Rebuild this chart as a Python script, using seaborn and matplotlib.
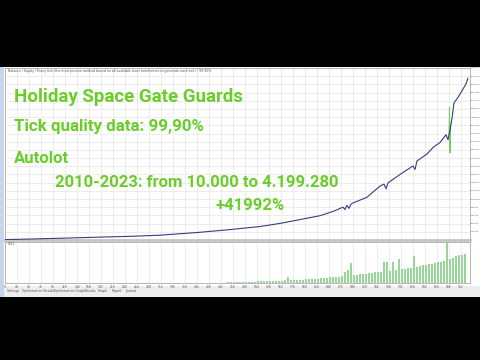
import numpy as np
import pandas as pd
import matplotlib
matplotlib.use("Agg")
import matplotlib.pyplot as plt
import seaborn as sns
from matplotlib.patches import Rectangle
from matplotlib.ticker import MultipleLocator, FixedLocator

# ---------------- data ----------------
headline = "Holiday Space Gate Guards"
quality_text = "Tick quality data: 99,90%"
lot_text = "Autolot"
range_text = "2010-2023: from 10.000 to 4.199.280"
gain_text = "+41992%"
header_text = ("Balance / Equity / Every tick (the most precise method based on all available "
               "least timeframes to generate each tick) / 99.90%")
tab_names = ["Settings", "Optimization Results", "Optimization Graph", "Results",
             "Graph", "Report", "Journal"]

balance_trade = [0, 50, 110, 190, 250, 310, 390, 450, 510, 550, 590, 630, 660, 670,
                 676, 680, 684, 688, 692, 696, 724, 750, 758, 762, 766, 770, 790, 816,
                 820, 824, 844, 856, 870, 882, 886, 890, 894, 898, 906, 914, 922, 926]
balance_value = [10000, 25000, 45000, 75000, 95000, 125000, 200000, 270000, 350000,
                 430000, 530000, 630000, 760000, 820000, 850000, 790000, 900000, 820000,
                 930000, 960000, 1110000, 1400000, 1450000, 1330000, 1480000, 1520000,
                 1700000, 1920000, 1830000, 2050000, 2230000, 2400000, 2530000, 2730000,
                 2600000, 2850000, 3150000, 3560000, 3700000, 3870000, 4050000, 4199280]

equity_trade = [888, 889, 890, 891]
equity_value = [2700000, 3450000, 2260000, 3000000]

lot_trade = list(range(446, 921, 6))
lot_size = [0.10, 0.08, 0.09, 0.10, 0.10, 0.11, 0.12, 0.13, 0.14, 0.15,
            0.16, 0.17, 0.18, 0.19, 0.20, 0.21, 0.22, 0.23, 0.25, 0.26,
            0.60, 0.28, 0.30, 0.31, 0.33, 0.35, 0.37, 0.39, 0.41, 0.43,
            0.45, 0.48, 0.50, 0.53, 0.56, 0.59, 0.62, 0.65, 0.70, 1.10,
            1.30, 2.00, 0.80, 0.83, 0.86, 0.90, 0.94, 0.98, 1.02, 1.06,
            1.10, 1.14, 2.10, 2.10, 1.24, 2.10, 1.32, 2.40, 1.40, 1.44,
            1.49, 1.54, 2.70, 1.64, 1.70, 1.76, 1.82, 1.88, 1.94, 2.00,
            2.06, 2.12, 2.20, 4.00, 2.40, 2.55, 2.70, 2.78, 2.85, 2.90]

# ---------------- figure ----------------
sns.set_theme(style="white")
plt.rcParams['font.family'] = ['Roboto', 'DejaVu Sans']

W, H = 480, 360
fig = plt.figure(figsize=(4.8, 3.6), dpi=100, facecolor="black")


def fx(px):
    return px / W


def fy(py):
    return 1 - py / H


# window background and chrome
fig.patches.append(Rectangle((0, fy(297)), 1, (297 - 67) / H, transform=fig.transFigure,
                             facecolor="white", edgecolor="none", zorder=-3))
fig.patches.append(Rectangle((0, fy(297)), fx(4), (297 - 67) / H, transform=fig.transFigure,
                             facecolor="#c7d5ea", edgecolor="none", zorder=-2))
fig.patches.append(Rectangle((fx(4), fy(297)), 1, 11 / H, transform=fig.transFigure,
                             facecolor="#ededed", edgecolor="none", zorder=-2))

main_ax = fig.add_axes([fx(5), fy(240), fx(470) - fx(5), (240 - 68) / H])
lot_ax = fig.add_axes([fx(5), fy(283), fx(470) - fx(5), (283 - 242) / H])

x_max = 930
y_max = 4461521

bal_df = pd.DataFrame({"trade": balance_trade, "value": balance_value})
eq_df = pd.DataFrame({"trade": equity_trade, "value": equity_value})
lot_df = pd.DataFrame({"trade": lot_trade, "lot": lot_size})

sns.lineplot(data=eq_df, x="trade", y="value", ax=main_ax, color="#7acb62", lw=0.8,
             estimator=None, sort=False, zorder=3)
sns.lineplot(data=bal_df, x="trade", y="value", ax=main_ax, color="#353f7c", lw=0.8,
             estimator=None, sort=False, zorder=4)

main_ax.set_xlim(0, x_max)
main_ax.set_ylim(0, y_max)
main_ax.set_xlabel("")
main_ax.set_ylabel("")
main_ax.xaxis.set_major_locator(MultipleLocator(24))
yt = np.linspace(0, y_max, 22)
main_ax.yaxis.set_major_locator(FixedLocator(yt))
main_ax.grid(True, color="#e6e6e6", lw=0.5)
main_ax.set_axisbelow(True)
main_ax.yaxis.tick_right()
main_ax.set_yticklabels([f"{int(v)}" for v in yt], family=["DejaVu Sans"])
main_ax.tick_params(axis="y", labelsize=1.5, labelcolor="#555555", length=0, pad=0.6)
main_ax.tick_params(axis="x", labelbottom=False, length=0)
for s in main_ax.spines.values():
    s.set_color("#9a9a9a")
    s.set_linewidth(0.5)
main_ax.spines["bottom"].set_color("#c4c4c4")
main_ax.spines["bottom"].set_linewidth(2.0)

sns.barplot(data=lot_df, x="trade", y="lot", ax=lot_ax, native_scale=True, color="#97d696",
            width=0.9, saturation=1, edgecolor="none", zorder=3)
lot_ax.set_xlim(0, x_max)
lot_ax.set_ylim(0, 4.1)
lot_ax.set_xlabel("")
lot_ax.set_ylabel("")
lot_ax.xaxis.set_major_locator(MultipleLocator(24))
lot_ax.grid(True, axis="x", color="#e6e6e6", lw=0.5)
lot_ax.set_axisbelow(True)
lot_ax.set_yticks([])
lot_ax.tick_params(axis="x", labelsize=2.2, labelcolor="#555555", length=1, width=0.4,
                   color="#555555", pad=0.8)
for lbl in lot_ax.get_xticklabels():
    lbl.set_family(["DejaVu Sans"])
for s in lot_ax.spines.values():
    s.set_color("#9a9a9a")
    s.set_linewidth(0.5)

# header / tabs
fig.text(fx(8), fy(71), header_text, fontsize=2.3, color="#555555", va="center",
         family=["DejaVu Sans"])
fig.text(fx(8), fy(244), "0.01", fontsize=2.3, color="#555555", va="center",
         family=["DejaVu Sans"])
tab_x = [7, 22, 54, 85, 98, 112, 125]
for name, tx in zip(tab_names, tab_x):
    fig.text(fx(tx), fy(291), name, fontsize=2.3, color="#555555", va="center",
             family=["DejaVu Sans"])

# overlay texts
green = "#6acd2a"
fig.text(fx(14), fy(101.5), headline, fontsize=13.5, color=green, weight="bold",
         va="baseline")
fig.text(fx(14), fy(131.5), quality_text, fontsize=12.2, color=green, weight="bold",
         va="baseline")
fig.text(fx(14), fy(163), lot_text, fontsize=12.0, color=green, weight="bold",
         va="baseline")
fig.text(fx(55), fy(186.5), range_text, fontsize=12.0, color=green, weight="bold",
         va="baseline")
fig.text(fx(215), fy(210), gain_text, fontsize=12.0, color=green, weight="bold",
         va="baseline")

fig.savefig("out.png", dpi=100, facecolor="black")
